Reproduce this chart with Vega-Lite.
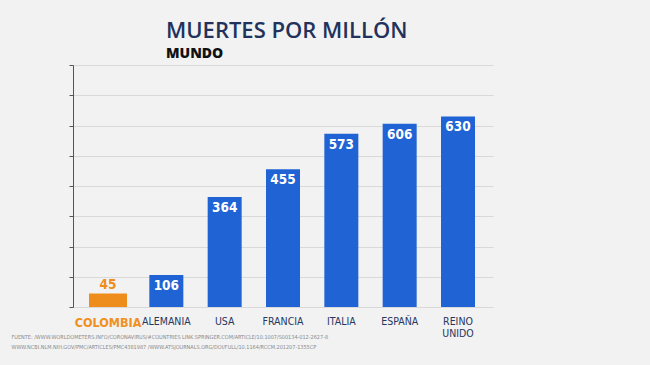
{
  "$schema": "https://vega.github.io/schema/vega-lite/v6.json",
  "width": 420,
  "height": 242,
  "autosize": {"type": "none"},
  "padding": {"left": 73, "top": 65, "right": 157, "bottom": 58},
  "background": "#f2f2f2",
  "title": {
    "text": "MUERTES POR MILLÓN",
    "subtitle": "MUNDO",
    "anchor": "start",
    "frame": "group",
    "dx": 93,
    "offset": 3,
    "font": "Open Sans",
    "fontSize": 22,
    "fontWeight": 600,
    "color": "#22325c",
    "subtitleFont": "Open Sans",
    "subtitleFontSize": 14,
    "subtitleFontWeight": 800,
    "subtitleColor": "#111111",
    "subtitlePadding": 4
  },
  "data": {
    "values": [
      {"pais": "COLOMBIA", "muertes": 45, "grupo": "Colombia"},
      {"pais": "ALEMANIA", "muertes": 106, "grupo": "Otros"},
      {"pais": "USA", "muertes": 364, "grupo": "Otros"},
      {"pais": "FRANCIA", "muertes": 455, "grupo": "Otros"},
      {"pais": "ITALIA", "muertes": 573, "grupo": "Otros"},
      {"pais": "ESPAÑA", "muertes": 606, "grupo": "Otros"},
      {"pais": "REINO UNIDO", "muertes": 630, "grupo": "Otros"}
    ]
  },
  "encoding": {
    "x": {
      "field": "pais",
      "type": "nominal",
      "sort": null,
      "scale": {"paddingInner": 0.4, "paddingOuter": 0.3},
      "axis": {
        "title": ["FUENTE: /WWW.WORLDOMETERS.INFO/CORONAVIRUS/#COUNTRIES  LINK.SPRINGER.COM/ARTICLE/10.1007/S00134-012-2627-8", "WWW.NCBI.NLM.NIH.GOV/PMC/ARTICLES/PMC4381987  /WWW.ATSJOURNALS.ORG/DOI/FULL/10.1164/RCCM.201207-1355CP"],
        "titleFont": "DejaVu Sans Condensed",
        "titleFontSize": 5.5,
        "titleFontWeight": "normal",
        "titleColor": "#8a8a8a",
        "titleAnchor": "start",
        "titleAlign": "left",
        "titleX": -62,
        "titleY": 27,
        "titleLineHeight": 10,
        "labelAngle": 0,
        "labelExpr": "split(datum.label, ' ')",
        "labelFont": "DejaVu Sans Condensed",
        "labelFontSize": {"condition": {"test": "datum.value == 'COLOMBIA'", "value": 12.5}, "value": 10.5},
        "labelFontWeight": {"condition": {"test": "datum.value == 'COLOMBIA'", "value": "bold"}, "value": "normal"},
        "labelColor": {"condition": {"test": "datum.value == 'COLOMBIA'", "value": "#f0901e"}, "value": "#27375f"},
        "labelPadding": 9,
        "labelLineHeight": 12,
        "labelOverlap": false,
        "domain": false,
        "ticks": false
      }
    },
    "y": {
      "field": "muertes",
      "type": "quantitative",
      "scale": {"domain": [0, 800], "nice": false},
      "axis": {
        "title": null,
        "labels": false,
        "values": [0, 100, 200, 300, 400, 500, 600, 700, 800],
        "tickSize": 4,
        "tickColor": "#555555",
        "domainColor": "#555555",
        "gridColor": "#d9d9d9",
        "gridWidth": 1.2
      }
    }
  },
  "layer": [
    {
      "mark": {"type": "bar"},
      "encoding": {
        "color": {
          "field": "grupo",
          "type": "nominal",
          "scale": {"domain": ["Colombia", "Otros"], "range": ["#ef8d1c", "#1f63d4"]},
          "legend": null
        },
        "size": {
          "field": "grupo",
          "type": "nominal",
          "scale": {"domain": ["Colombia", "Otros"], "range": [38, 34]},
          "legend": null
        }
      }
    },
    {
      "transform": [{"filter": "datum.pais != 'COLOMBIA'"}],
      "mark": {"type": "text", "baseline": "top", "dy": 4, "font": "DejaVu Sans Condensed", "fontSize": 13.5, "fontWeight": "bold", "color": "white"},
      "encoding": {"text": {"field": "muertes", "type": "quantitative"}}
    },
    {
      "transform": [{"filter": "datum.pais == 'COLOMBIA'"}],
      "mark": {"type": "text", "baseline": "bottom", "dy": -1, "font": "DejaVu Sans Condensed", "fontSize": 13.5, "fontWeight": "bold", "color": "#ef8d1c"},
      "encoding": {"text": {"field": "muertes", "type": "quantitative"}}
    }
  ],
  "config": {"view": {"stroke": null}}
}
